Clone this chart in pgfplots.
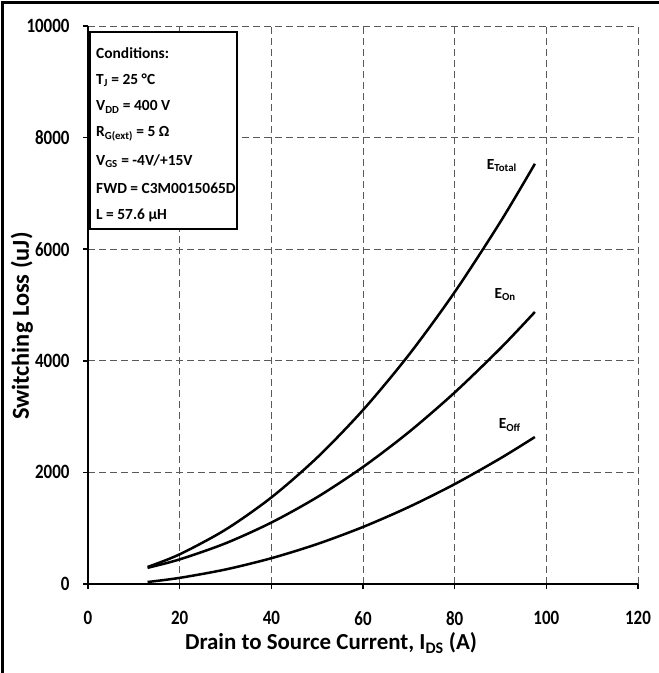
\documentclass[border=0pt]{standalone}
\usepackage{fontspec}
\setmainfont{Carlito}
\usepackage{graphicx}
\usepackage{pgfplots}
\pgfplotsset{compat=1.18}

\pgfplotstableread{
x     etot  eon   eoff
13    305   290   36
20    532   441   110
30    974   729   260
40    1551  1101  462
50    2266  1556  716
60    3118  2097  1022
70    4106  2722  1380
80    5231  3432  1790
90    6493  4225  2253
97.5  7530  4875  2634
}\loss

\begin{document}
\begin{tikzpicture}
\path[use as bounding box] (0bp,0bp) rectangle (659bp,673bp);
\draw[line width=2.5bp] (2.5bp,0bp) -- (2.5bp,670.5bp) -- (659bp,670.5bp);
\begin{axis}[
  at={(88bp,89bp)}, anchor=south west,
  width=550bp, height=558bp, scale only axis,
  xmin=0, xmax=120, ymin=0, ymax=10000,
  axis lines=left,
  axis line style={-, line width=2.5bp},
  xtick={0,20,...,120}, ytick={0,2000,...,10000},
  scaled y ticks=false,
  /pgf/number format/1000 sep={},
  /pgf/number format/assume math mode=true,
  tick label style={font=\fontsize{17}{17}\selectfont\bfseries},
  xticklabel={\scalebox{1}[1.2]{\pgfmathprintnumber{\tick}}},
  yticklabel={\scalebox{1}[1.2]{\pgfmathprintnumber{\tick}}},
  tick align=outside, major tick length=5bp,
  tick style={black, line width=1.5bp},
  xticklabel style={yshift=-19bp},
  yticklabel style={xshift=-10bp},
  grid=major,
  grid style={black!65, line width=0.8bp, dash pattern=on 7bp off 4bp},
  xlabel={Drain to Source Current, I\textsubscript{DS} (A)},
  ylabel={Switching Loss (uJ)},
  xlabel style={font=\fontsize{23}{23}\selectfont\bfseries,
    at={(axis description cs:0.442,-0.106)}, anchor=center},
  ylabel style={font=\fontsize{24.5}{24.5}\selectfont\bfseries,
    at={(axis description cs:-0.12,0.462)}, anchor=center, rotate=0},
]
\addplot[black, line width=2.5bp, smooth] table[x=x, y=etot] {\loss};
\addplot[black, line width=2.5bp, smooth] table[x=x, y=eon] {\loss};
\addplot[black, line width=2.5bp, smooth] table[x=x, y=eoff] {\loss};
\node[font=\fontsize{15.5}{15.5}\selectfont\bfseries] at (axis cs:90.3,7500) {E\textsubscript{Total}};
\node[font=\fontsize{15.5}{15.5}\selectfont\bfseries] at (axis cs:91,5180) {E\textsubscript{On}};
\node[font=\fontsize{15.5}{15.5}\selectfont\bfseries] at (axis cs:92,2850) {E\textsubscript{Off}};
\end{axis}
\draw[line width=2bp, fill=white] (90bp,444bp) rectangle (237bp,641bp);
\begin{scope}[every node/.style={anchor=west, inner sep=0pt, font=\fontsize{15.5}{15.5}\selectfont\bfseries}]
\node at (96bp,620bp) {Conditions:};
\node at (96bp,593bp) {T\textsubscript{J} = 25 °C};
\node at (96bp,566bp) {V\textsubscript{DD} = 400 V};
\node at (96bp,539bp) {R\textsubscript{G(ext)} = 5 Ω};
\node at (96bp,512bp) {V\textsubscript{GS} = -4V/+15V};
\node at (96bp,485bp) {FWD = C3M0015065D};
\node at (96bp,458bp) {L = 57.6 µH};
\end{scope}
\end{tikzpicture}
\end{document}
